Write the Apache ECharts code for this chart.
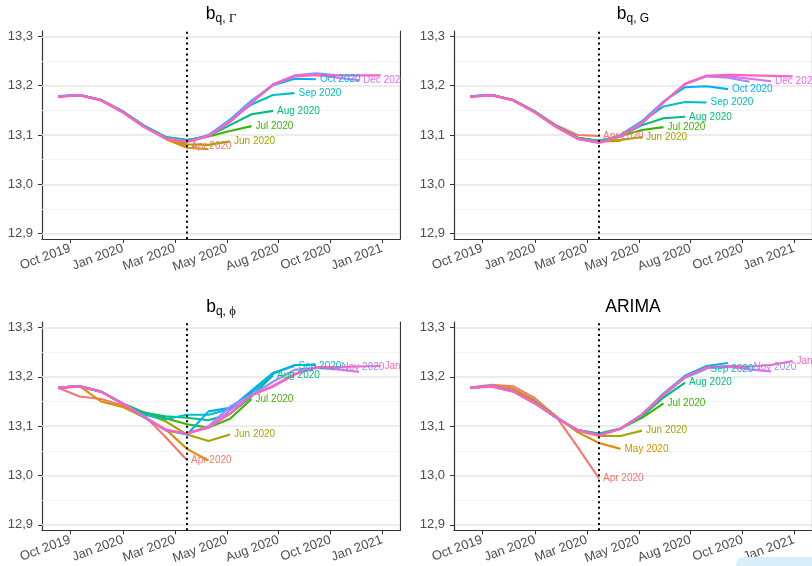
<!DOCTYPE html>
<html><head><meta charset="utf-8">
<script src="https://cdn.jsdelivr.net/npm/echarts@6/dist/echarts.min.js"></script>
<style>html,body{margin:0;padding:0;background:#fff}#c{width:812px;height:566px}</style>
</head><body><div id="c"></div>
<script>
// ---- data ----
const months = ['Oct 2019','Nov 2019','Dec 2019','Jan 2020','Feb 2020','Mar 2020','Apr 2020','May 2020',
  'Jun 2020','Jul 2020','Aug 2020','Sep 2020','Oct 2020','Nov 2020','Dec 2020','Jan 2021'];
const vintages = ['Apr 2020','May 2020','Jun 2020','Jul 2020','Aug 2020','Sep 2020','Oct 2020','Nov 2020','Dec 2020','Jan 2021'];
const vintageColors = ['#F8766D','#D89000','#A3A500','#39B600','#00BF7D','#00BFC4','#00B0F6','#9590FF','#E76BF3','#FF62BC'];
const xTickLabels = ['Oct 2019','Jan 2020','Mar 2020','May 2020','Aug 2020','Oct 2020','Jan 2021'];
const xTickPositions = [0.56, 3.02, 5.43, 7.85, 10.26, 12.68, 15.07]; // in month-index units
const yTicks = [12.9, 13.0, 13.1, 13.2, 13.3];
const yMinorTicks = [12.95, 13.05, 13.15, 13.25];
const cutoffMonth = 'Apr 2020';

const bqGamma = [
  [13.178,13.181,13.171,13.148,13.118,13.094,13.078],
  [13.178,13.181,13.171,13.148,13.118,13.092,13.074,13.071],
  [13.178,13.181,13.171,13.148,13.118,13.095,13.081,13.080,13.087],
  [13.178,13.181,13.171,13.148,13.119,13.096,13.090,13.097,13.108,13.118],
  [13.179,13.181,13.171,13.148,13.119,13.096,13.090,13.098,13.120,13.142,13.149],
  [13.178,13.181,13.171,13.147,13.118,13.095,13.088,13.099,13.130,13.162,13.181,13.185],
  [13.178,13.181,13.171,13.147,13.117,13.094,13.087,13.100,13.131,13.170,13.201,13.214,13.213],
  [13.178,13.181,13.171,13.147,13.117,13.094,13.087,13.099,13.129,13.168,13.203,13.221,13.225,13.221],
  [13.178,13.181,13.171,13.147,13.117,13.093,13.086,13.098,13.127,13.166,13.202,13.220,13.222,13.216,13.211],
  [13.177,13.180,13.170,13.146,13.116,13.093,13.086,13.097,13.126,13.165,13.202,13.219,13.222,13.221,13.221,13.221]
];
const bqG = [
  [13.178,13.181,13.171,13.148,13.120,13.100,13.098],
  [13.178,13.181,13.171,13.148,13.118,13.095,13.087,13.088],
  [13.178,13.181,13.171,13.148,13.118,13.094,13.087,13.090,13.096],
  [13.178,13.181,13.171,13.148,13.118,13.094,13.088,13.098,13.110,13.116],
  [13.179,13.181,13.171,13.148,13.118,13.094,13.088,13.098,13.120,13.134,13.137],
  [13.178,13.181,13.171,13.147,13.117,13.093,13.086,13.099,13.127,13.158,13.167,13.166],
  [13.178,13.181,13.171,13.147,13.117,13.093,13.085,13.100,13.128,13.168,13.197,13.199,13.193],
  [13.178,13.181,13.171,13.147,13.117,13.093,13.085,13.098,13.126,13.167,13.203,13.219,13.216,13.208],
  [13.178,13.181,13.171,13.147,13.117,13.092,13.085,13.097,13.124,13.166,13.204,13.220,13.219,13.214,13.209],
  [13.177,13.180,13.170,13.146,13.116,13.092,13.084,13.097,13.123,13.166,13.204,13.220,13.222,13.221,13.220,13.219]
];
const bqPhi = [
  [13.178,13.160,13.155,13.142,13.122,13.078,13.031],
  [13.178,13.181,13.150,13.139,13.118,13.094,13.054,13.030],
  [13.178,13.181,13.170,13.145,13.126,13.110,13.083,13.070,13.083],
  [13.178,13.181,13.170,13.146,13.128,13.116,13.104,13.097,13.115,13.155],
  [13.178,13.181,13.170,13.146,13.127,13.120,13.117,13.112,13.125,13.160,13.203],
  [13.178,13.181,13.170,13.146,13.123,13.114,13.123,13.123,13.135,13.172,13.208,13.222],
  [13.178,13.181,13.170,13.146,13.118,13.092,13.083,13.130,13.137,13.168,13.206,13.224,13.224],
  [13.178,13.181,13.170,13.146,13.120,13.093,13.085,13.100,13.140,13.163,13.190,13.214,13.218,13.219],
  [13.178,13.181,13.170,13.146,13.120,13.092,13.085,13.098,13.132,13.162,13.182,13.206,13.218,13.215,13.210],
  [13.177,13.180,13.170,13.146,13.119,13.092,13.085,13.097,13.125,13.163,13.180,13.204,13.220,13.220,13.221,13.222]
];
const arima = [
  [13.178,13.184,13.181,13.157,13.120,13.058,12.994],
  [13.178,13.182,13.176,13.152,13.120,13.088,13.066,13.054],
  [13.178,13.181,13.172,13.149,13.118,13.091,13.080,13.080,13.091],
  [13.178,13.181,13.171,13.148,13.118,13.092,13.085,13.095,13.117,13.146],
  [13.178,13.181,13.171,13.148,13.118,13.092,13.084,13.095,13.120,13.158,13.188],
  [13.178,13.181,13.171,13.147,13.118,13.092,13.083,13.095,13.122,13.163,13.198,13.216],
  [13.178,13.181,13.171,13.147,13.118,13.092,13.082,13.095,13.124,13.166,13.202,13.222,13.228],
  [13.178,13.181,13.171,13.147,13.118,13.092,13.082,13.095,13.123,13.164,13.200,13.218,13.220,13.219],
  [13.178,13.181,13.171,13.147,13.118,13.092,13.081,13.095,13.123,13.164,13.199,13.218,13.221,13.215,13.211],
  [13.177,13.180,13.170,13.146,13.118,13.092,13.081,13.095,13.123,13.164,13.199,13.219,13.222,13.221,13.224,13.232]
];
const labelsGamma = ['Apr 2020','Jun 2020','Jul 2020','Aug 2020','Sep 2020','Oct 2020','Dec 2020'];
const labelsG     = ['Apr 2020','Jun 2020','Jul 2020','Aug 2020','Sep 2020','Oct 2020','Dec 2020'];
const labelsPhi   = ['Apr 2020','Jun 2020','Jul 2020','Aug 2020','Sep 2020','Nov 2020','Jan 2021'];
const labelsArima = ['Apr 2020','May 2020','Jun 2020','Jul 2020','Aug 2020','Sep 2020','Nov 2020','Jan 2021'];

// ---- layout / styling ----
const FONT = 'Liberation Sans, Arial, Helvetica, sans-serif';
const panels = [
  {data: bqGamma, labels: labelsGamma, title: '{b|b}{s|q, }{g|Γ}', grid: {left: 42, top: 31, width: 358, height: 208}, titleX: 221, titleY: 3, front: false},
  {data: bqG,     labels: labelsG,     title: '{b|b}{s|q, G}',      grid: {left: 454, top: 31, width: 358, height: 208}, titleX: 633, titleY: 3, front: true},
  {data: bqPhi,   labels: labelsPhi,   title: '{b|b}{s|q, }{g|ϕ}', grid: {left: 42, top: 322, width: 358, height: 209}, titleX: 221, titleY: 296, front: false},
  {data: arima,   labels: labelsArima, title: '{b|ARIMA}',          grid: {left: 454, top: 322, width: 358, height: 209}, titleX: 633, titleY: 296, front: true}
];
const XMIN = -0.745, XMAX = 15.905, YMIN = 12.889, YMAX = 13.311;
const cutIdx = months.indexOf(cutoffMonth);

const option = {
  animation: false,
  backgroundColor: '#fff',
  textStyle: {fontFamily: FONT},
  title: panels.map(p => ({
    text: p.title, left: p.titleX, top: p.titleY, textAlign: 'center', padding: 0,
    textStyle: {
      fontWeight: 'normal',
      rich: {
        b: {fontSize: 17.5, color: '#000', fontFamily: FONT, fontWeight: 'normal', lineHeight: 22},
        s: {fontSize: 12, color: '#000', fontFamily: FONT, fontWeight: 'normal', verticalAlign: 'bottom', lineHeight: 12},
        g: {fontSize: 12.5, color: '#000', fontFamily: 'Liberation Serif, DejaVu Serif, serif', fontWeight: 'normal', verticalAlign: 'bottom', lineHeight: 12}
      }
    }
  })),
  grid: panels.map(p => Object.assign({}, p.grid)),
  xAxis: panels.map((p, k) => ({
    type: 'value', gridIndex: k, min: XMIN, max: XMAX, z: p.front ? 60 : 0,
    axisLine: {show: true, onZero: false, lineStyle: {color: '#333', width: 1.2}},
    axisTick: {show: true, length: 4, customValues: xTickPositions, lineStyle: {color: '#333', width: 1}},
    axisLabel: {customValues: xTickPositions, rotate: 20, margin: 9, fontSize: 13, color: '#4D4D4D', fontFamily: FONT,
      formatter: v => { const i = xTickPositions.findIndex(t => Math.abs(t - v) < 1e-6); return i >= 0 ? xTickLabels[i] : ''; }},
    splitLine: {show: false}
  })),
  yAxis: [].concat(...panels.map((p, k) => ([
    {
      type: 'value', gridIndex: k, min: YMIN, max: YMAX, z: p.front ? 60 : 0,
      axisLine: {show: true, onZero: false, lineStyle: {color: '#333', width: 1.2}},
      axisTick: {show: true, length: 4, customValues: yTicks, lineStyle: {color: '#333', width: 1}},
      axisLabel: {customValues: yTicks, margin: 9, fontSize: 13, color: '#4D4D4D', fontFamily: FONT,
        formatter: v => v.toFixed(1).replace('.', ',')},
      splitLine: {show: false}
    },
    {
      type: 'value', gridIndex: k, min: YMIN, max: YMAX, position: 'right', z: p.front ? 60 : 0,
      axisLine: {show: true, onZero: false, lineStyle: {color: '#333', width: 1.2}},
      axisTick: {show: false}, axisLabel: {show: false}, splitLine: {show: false}
    }
  ]))),
  series: [],
  graphic: [
    {type: 'rect', shape: {x: 401, y: 0, width: 52, height: 566}, style: {fill: '#fff'}, z: 50, silent: true},
    {type: 'rect', shape: {x: 736, y: 557, width: 100, height: 30, r: 8}, style: {fill: '#D8EFFA'}, z: 70, silent: true}
  ]
};

panels.forEach((p, k) => {
  // grid lines (major + minor)
  option.series.push({
    type: 'line', xAxisIndex: k, yAxisIndex: 2 * k, data: [], z: 1, silent: true,
    markLine: {
      silent: true, symbol: 'none', z: 1, label: {show: false}, animation: false,
      data: yMinorTicks.map(v => ({yAxis: v, lineStyle: {color: '#F0F0F0', width: 0.8, type: 'solid'}}))
        .concat(yTicks.map(v => ({yAxis: v, lineStyle: {color: '#E6E6E6', width: 1.5, type: 'solid'}})))
    }
  });
  p.data.forEach((vals, j) => {
    const name = vintages[j];
    option.series.push({
      type: 'line', name, xAxisIndex: k, yAxisIndex: 2 * k, z: 2,
      data: vals.map((v, i) => [i, v]),
      showSymbol: false, symbol: 'none', smooth: false,
      lineStyle: {color: vintageColors[j], width: 2.1},
      itemStyle: {color: vintageColors[j]},
      endLabel: {show: p.labels.includes(name), formatter: name, color: vintageColors[j], fontSize: 10,
        fontFamily: FONT, distance: 4}
    });
  });
  // dotted cutoff line
  option.series.push({
    type: 'line', xAxisIndex: k, yAxisIndex: 2 * k, data: [], z: 3, silent: true,
    markLine: {
      silent: true, symbol: 'none', label: {show: false}, animation: false,
      data: [{xAxis: cutIdx, lineStyle: {color: '#000', width: 2, type: [2, 3.4]}}]
    }
  });
});

const chart = echarts.init(document.getElementById('c'), null, {renderer: 'canvas'});
chart.setOption(option);
</script>
</body></html>
